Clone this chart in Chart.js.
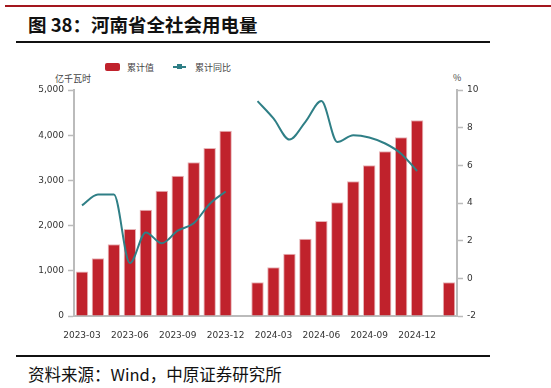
<!DOCTYPE html>
<html>
<head>
<meta charset="utf-8">
<script src="https://cdn.jsdelivr.net/npm/chart.js@4"></script>
<style>
  body { margin: 0; background: #fff; width: 551px; height: 388px; overflow: hidden; position: relative; font-family: "Noto Sans CJK SC", sans-serif; }
  .abs { position: absolute; }
  #topline { left: 5px; top: 5px; width: 546px; height: 2px; background: #a3171e; }
  #title { left: 28px; top: 11px; font-size: 18.5px; font-weight: bold; color: #111; white-space: nowrap; }
  #line1 { left: 16px; top: 41px; width: 474px; height: 2px; background: #111; }
  #line2 { left: 16px; top: 355px; width: 474px; height: 2px; background: #111; }
  #source { left: 28px; top: 362px; font-size: 16.5px; color: #111; white-space: nowrap; }
  #wrap { left: 0; top: 50px; width: 551px; height: 290px; }
  .lg { font-size: 9px; color: #444; top: 61px; white-space: nowrap; }
  .unit { font-size: 9px; color: #444; white-space: nowrap; }
</style>
</head>
<body>
<div id="topline" class="abs"></div>
<div id="title" class="abs">图 38：河南省全社会用电量</div>
<div id="line1" class="abs"></div>

<div class="abs" style="left:105px;top:63px;width:15px;height:8px;background:#c0222c;border-radius:2px;"></div>
<div class="abs lg" style="left:127px;">累计值</div>
<div class="abs" style="left:173px;top:66px;width:13px;height:2px;background:#2f7f86;"></div>
<div class="abs" style="left:177px;top:64px;width:5px;height:5px;background:#2f7f86;"></div>
<div class="abs lg" style="left:195px;">累计同比</div>
<div class="abs unit" style="left:55px;top:72px;">亿千瓦时</div>
<div class="abs unit" style="left:453px;top:71px;">%</div>

<div id="wrap" class="abs"><canvas id="chart"></canvas></div>

<div id="line2" class="abs"></div>
<div id="source" class="abs">资料来源：Wind，中原证券研究所</div>

<script>
// months 2023-03 .. 2025-02
var months = ['2023-03','2023-04','2023-05','2023-06','2023-07','2023-08','2023-09','2023-10','2023-11','2023-12',
              '2024-01','2024-02','2024-03','2024-04','2024-05','2024-06','2024-07','2024-08','2024-09','2024-10','2024-11','2024-12',
              '2025-01','2025-02'];
// 累计值 (亿千瓦时)
var cumValue = [985, 1277, 1586, 1925, 2352, 2772, 3104, 3400, 3717, 4100,
                null, 745, 1077, 1378, 1710, 2102, 2515, 2980, 3334, 3644, 3953, 4330,
                null, 745];
// 累计同比 (%)
var cumYoy = [3.87, 4.45, 4.45, 0.81, 2.44, 1.86, 2.53, 2.92, 3.95, 4.61,
              null, 9.41, 8.49, 7.37, 8.31, 9.41, 7.24, 7.6, 7.48, 7.16, 6.62, 5.7,
              null, null];
var leftTicks = [0, 1000, 2000, 3000, 4000, 5000];
var rightTicks = [-2, 0, 2, 4, 6, 8, 10];

var axisGrey = '#bbbbbb';
var tickFont = { family: 'DejaVu Sans', size: 9 };

new Chart(document.getElementById('chart'), {
  type: 'bar',
  data: {
    labels: months,
    datasets: [
      {
        type: 'line',
        label: '累计同比',
        data: cumYoy,
        yAxisID: 'y1',
        borderColor: '#2f7f86',
        borderWidth: 2,
        pointRadius: 0,
        cubicInterpolationMode: 'monotone',
        spanGaps: false,
        order: 0
      },
      {
        label: '累计值',
        data: cumValue,
        yAxisID: 'y',
        backgroundColor: '#c0222c',
        borderColor: '#e7b3b6',
        borderWidth: 1,
        barPercentage: 0.78,
        categoryPercentage: 1,
        order: 1
      }
    ]
  },
  options: {
    responsive: true,
    maintainAspectRatio: false,
    animation: false,
    layout: { padding: { top: 40, left: 0, right: 0, bottom: 0 } },
    plugins: { legend: { display: false }, tooltip: { enabled: false } },
    scales: {
      x: {
        grid: { display: false },
        border: { display: true, color: axisGrey, width: 2 },
        ticks: {
          autoSkip: false, maxRotation: 0, color: '#333', font: tickFont, padding: 6,
          callback: function(v, i) { return i % 3 === 0 ? months[i] : ''; }
        },
        afterFit: function(s) { s.height = 24; }
      },
      y: {
        position: 'left',
        min: 0, max: 5000,
        afterBuildTicks: function(s) { s.ticks = leftTicks.map(function(v) { return { value: v }; }); },
        grid: { drawOnChartArea: false, color: axisGrey, tickLength: 6, tickWidth: 1.5 },
        border: { color: axisGrey, width: 2 },
        ticks: { color: '#333', font: tickFont, padding: 4,
          callback: function(v) { return v.toLocaleString('en-US'); } },
        afterFit: function(s) { s.width = 74; }
      },
      y1: {
        position: 'right',
        min: -2, max: 10,
        afterBuildTicks: function(s) { s.ticks = rightTicks.map(function(v) { return { value: v }; }); },
        grid: { drawOnChartArea: false, color: axisGrey, tickLength: 6, tickWidth: 1.5 },
        border: { color: axisGrey, width: 2 },
        ticks: { color: '#333', font: tickFont, padding: 4 },
        afterFit: function(s) { s.width = 94; }
      }
    }
  }
});
</script>
</body>
</html>
